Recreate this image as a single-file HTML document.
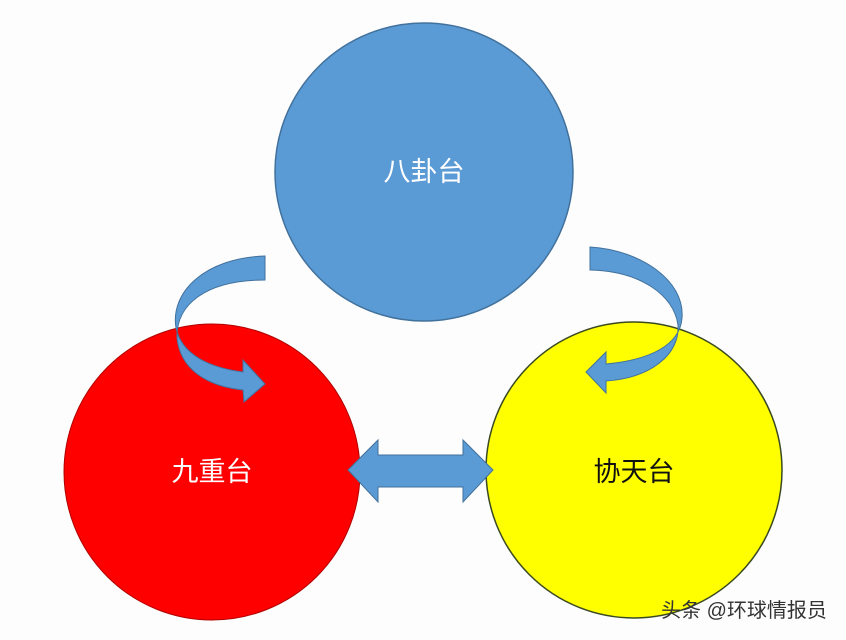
<!DOCTYPE html>
<html><head><meta charset="utf-8"><style>
html,body{margin:0;padding:0;background:#fdfdfd;}
svg{display:block}
</style></head><body>
<svg width="846" height="640" viewBox="0 0 846 640" xmlns="http://www.w3.org/2000/svg">
<rect width="846" height="640" fill="#fdfdfd"/>
<circle cx="424" cy="172" r="149" fill="#5b9bd5" stroke="#41719c" stroke-width="1.5"/>
<circle cx="212" cy="472" r="148" fill="#ff0000" stroke="#b00000" stroke-width="1"/>
<circle cx="634" cy="470" r="148" fill="#ffff00" stroke="#3a4a20" stroke-width="1.5"/>
<path d="M265,256 C205,258 170,292 176,328 C182,356 212,368 243,372 L243,360 L265,384 L244,402 L243,390 C205,386 180,368 177,338 C176,305 205,280 265,280 Z" fill="#5b9bd5" stroke="#41719c" stroke-width="1"/>
<path d="M590,247 C640,250 685,280 682,318 C680,345 650,360 606,364 L606,352 L586,372 L606,393 L606,381 C650,378 680,355 678,325 C674,295 640,271 590,270 Z" fill="#5b9bd5" stroke="#41719c" stroke-width="1"/>
<path d="M348,470 L378,440 L378,455 L463,455 L463,440 L493,470 L463,502 L463,487 L378,487 L378,502 Z" fill="#5b9bd5" stroke="#41719c" stroke-width="1"/>
<g font-family="'Liberation Sans','Noto Sans CJK SC',sans-serif" font-size="27" text-anchor="middle">
<text x="424" y="181" fill="#fff">八卦台</text>
<text x="212" y="481" fill="#fff">九重台</text>
<text x="634" y="481" fill="#111">协天台</text>
</g>
<text x="744" y="617" font-family="'Liberation Sans','Noto Sans CJK SC',sans-serif" font-size="20" text-anchor="middle" fill="#333">头条 @环球情报员</text>
</svg>
</body></html>
